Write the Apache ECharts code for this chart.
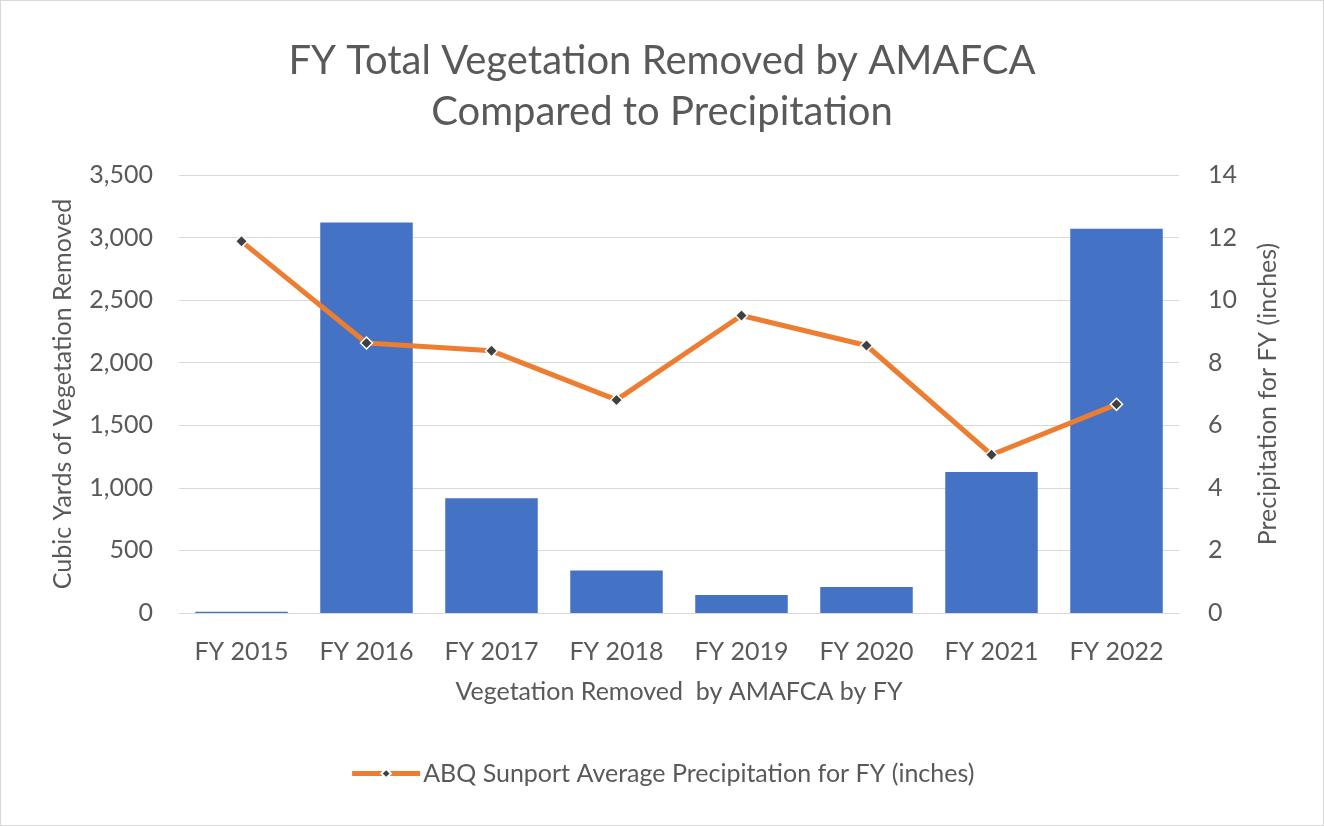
<!DOCTYPE html>
<html>
<head>
<meta charset="utf-8">
<script src="https://cdn.jsdelivr.net/npm/echarts@6/dist/echarts.min.js"></script>
<style>
  html, body { margin: 0; padding: 0; background: #fff; }
  #chart { width: 1322px; height: 824px; border: 1px solid #d9d9d9; }
</style>
</head>
<body>
<div id="chart"></div>
<script>
// data
var years = ['FY 2015', 'FY 2016', 'FY 2017', 'FY 2018', 'FY 2019', 'FY 2020', 'FY 2021', 'FY 2022'];
var vegetationRemoved = [10, 3121, 917, 340, 143, 207, 1127, 3071];
var precipitation = [11.88, 8.63, 8.38, 6.81, 9.51, 8.55, 5.06, 6.67];

var font = 'Lato';
var textColor = '#595959';
var fs = 25;

var myChart = echarts.init(document.getElementById('chart'));
var option = {
    animation: false,
    title: {
        text: 'FY Total Vegetation Removed by AMAFCA\nCompared to Precipitation',
        left: 'center',
        top: 30,
        textStyle: {
            fontFamily: font,
            fontSize: 40,
            fontWeight: 'normal',
            color: textColor,
            lineHeight: 51
        }
    },
    legend: {
        bottom: 34,
        left: 'center',
        data: [{
            name: 'ABQ Sunport Average Precipitation for FY (inches)',
            lineStyle: { width: 5 }
        }],
        itemWidth: 68,
        itemHeight: 12,
        itemGap: 4,
        textStyle: { fontFamily: font, fontSize: fs, color: textColor, padding: [0, 0, 0, -2] }
    },
    grid: {
        left: 178,
        right: 144,
        top: 174,
        bottom: 212
    },
    xAxis: {
        type: 'category',
        data: years,
        name: 'Vegetation Removed  by AMAFCA by FY',
        nameLocation: 'middle',
        nameGap: 66,
        nameTextStyle: { fontFamily: font, fontSize: fs, color: textColor },
        axisLine: { lineStyle: { color: '#d9d9d9', width: 1 } },
        axisTick: { show: false },
        axisLabel: { fontFamily: font, fontSize: fs, color: textColor, margin: 26 }
    },
    yAxis: [
        {
            type: 'value',
            min: 0,
            max: 3500,
            interval: 500,
            name: 'Cubic Yards of Vegetation Removed',
            nameLocation: 'middle',
            nameGap: 104,
            nameTextStyle: { fontFamily: font, fontSize: fs, color: textColor },
            axisLabel: {
                fontFamily: font, fontSize: fs, color: textColor, margin: 26,
                formatter: function (v) { return v.toLocaleString('en-US'); }
            },
            splitLine: { lineStyle: { color: '#d9d9d9', width: 1 } }
        },
        {
            type: 'value',
            min: 0,
            max: 14,
            interval: 2,
            name: 'Precipitation for FY (inches)',
            nameLocation: 'middle',
            nameGap: 76,
            nameTextStyle: { fontFamily: font, fontSize: fs, color: textColor },
            axisLabel: { fontFamily: font, fontSize: fs, color: textColor, margin: 29 },
            splitLine: { show: false }
        }
    ],
    series: [
        {
            name: 'Cubic Yards of Vegetation Removed',
            type: 'bar',
            data: vegetationRemoved,
            barCategoryGap: '26%',
            itemStyle: { color: '#4472c4' }
        },
        {
            name: 'ABQ Sunport Average Precipitation for FY (inches)',
            type: 'line',
            yAxisIndex: 1,
            data: precipitation,
            symbol: 'diamond',
            symbolSize: 12,
            lineStyle: { color: '#ed7d31', width: 5 },
            itemStyle: { color: '#404040', borderColor: '#ffffff', borderWidth: 1.5 },
            z: 5
        }
    ]
};
myChart.setOption(option);
</script>
</body>
</html>
